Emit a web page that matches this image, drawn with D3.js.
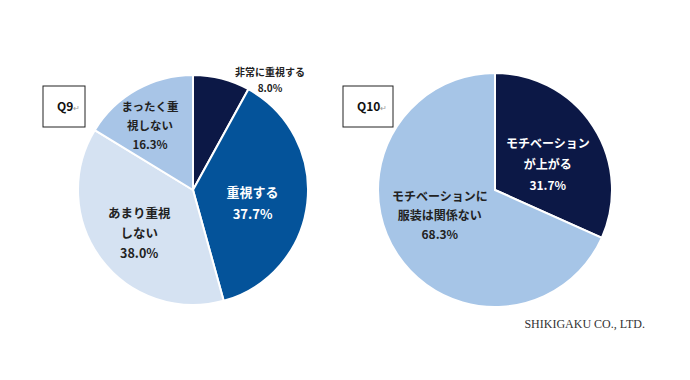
<!DOCTYPE html>
<html>
<head>
<meta charset="utf-8">
<script src="https://cdn.jsdelivr.net/npm/d3@7"></script>
<style>
  body { margin: 0; background: #fff; }
  svg text { font-family: "Noto Sans CJK JP", "Noto Sans", sans-serif; font-weight: 700; }
</style>
</head>
<body>
<div id="chart"></div>
<script>
// Q9
const q9Labels = [['非常に重視する'], ['重視する'], ['あまり重視', 'しない'], ['まったく重', '視しない']];
const q9Values = [8.0, 37.7, 38.0, 16.3];
// Q10
const q10Labels = [['モチベーション', 'が上がる'], ['モチベーションに', '服装は関係ない']];
const q10Values = [31.7, 68.3];

const width = 690, height = 380;
const svg = d3.select('#chart').append('svg')
  .attr('width', width)
  .attr('height', height);

function drawPie(cfg) {
  const g = svg.append('g').attr('transform', `translate(${cfg.cx},${cfg.cy})`);
  const pie = d3.pie().sort(null).value(d => d);
  const arcs = pie(cfg.values);
  const arc = d3.arc().innerRadius(0).outerRadius(cfg.r);

  g.selectAll('path')
    .data(arcs)
    .enter()
    .append('path')
    .attr('d', arc)
    .attr('fill', (d, i) => cfg.colors[i])
    .attr('stroke', '#fff')
    .attr('stroke-width', 2);

  // Labels
  arcs.forEach((d, i) => {
    const lp = cfg.labelPos[i];
    const a = (d.startAngle + d.endAngle) / 2 + lp.da;
    const x = Math.sin(a) * cfg.r * lp.k;
    const y = -Math.cos(a) * cfg.r * lp.k;
    const lines = cfg.labels[i].concat([d.data.toFixed(1) + '%']);
    const t = g.append('text')
      .attr('text-anchor', 'middle')
      .attr('fill', lp.color)
      .style('font-size', lp.size + 'px');
    const y0 = y - (lines.length - 1) * lp.lh / 2;
    lines.forEach((ln, j) => {
      t.append('tspan')
        .attr('x', x)
        .attr('y', y0 + j * lp.lh)
        .attr('dy', '0.35em')
        .text(ln);
    });
  });

  // Question box
  const box = svg.append('g').attr('transform', `translate(${cfg.box.x},${cfg.box.y})`);
  box.append('rect')
    .attr('width', cfg.box.w)
    .attr('height', cfg.box.h)
    .attr('fill', '#fff')
    .attr('stroke', '#222')
    .attr('stroke-width', 1);
  const bt = box.append('text')
    .attr('x', cfg.box.tx)
    .attr('y', cfg.box.h / 2)
    .attr('dy', '0.35em')
    .attr('fill', '#111')
    .style('font-size', '12px');
  bt.append('tspan').text(cfg.title);
  bt.append('tspan')
    .attr('fill', '#999')
    .style('font-size', '8px')
    .style('font-weight', 400)
    .text('↵');
}

drawPie({
  cx: 193, cy: 190, r: 115,
  values: q9Values,
  labels: q9Labels,
  colors: ['#0c1846', '#04539a', '#d5e2f2', '#a8c5e7'],
  labelPos: [
    { k: 1.167, da: 0.36, lh: 16, size: 10, color: '#222' },
    { k: 0.53, da: 0.1, lh: 22, size: 13, color: '#fff' },
    { k: 0.6, da: -0.03, lh: 20, size: 12.5, color: '#222' },
    { k: 0.67, da: -0.08, lh: 19, size: 11.5, color: '#222' }
  ],
  title: 'Q9',
  box: { x: 43, y: 86, w: 42, h: 41, tx: 14 }
});

drawPie({
  cx: 495, cy: 190, r: 117,
  values: q10Values,
  labels: q10Labels,
  colors: ['#0c1846', '#a6c5e7'],
  labelPos: [
    { k: 0.5, da: 0.13, lh: 21, size: 12, color: '#fff' },
    { k: 0.52, da: 0.14, lh: 19, size: 12, color: '#222' }
  ],
  title: 'Q10',
  box: { x: 343, y: 86, w: 50, h: 41, tx: 14 }
});

svg.append('text')
  .attr('x', 645)
  .attr('y', 328)
  .attr('text-anchor', 'end')
  .attr('fill', '#333')
  .style('font-family', '"Liberation Serif", "DejaVu Serif", serif')
  .style('font-weight', 400)
  .style('font-size', '12px')
  .text('SHIKIGAKU CO., LTD.');
</script>
</body>
</html>
